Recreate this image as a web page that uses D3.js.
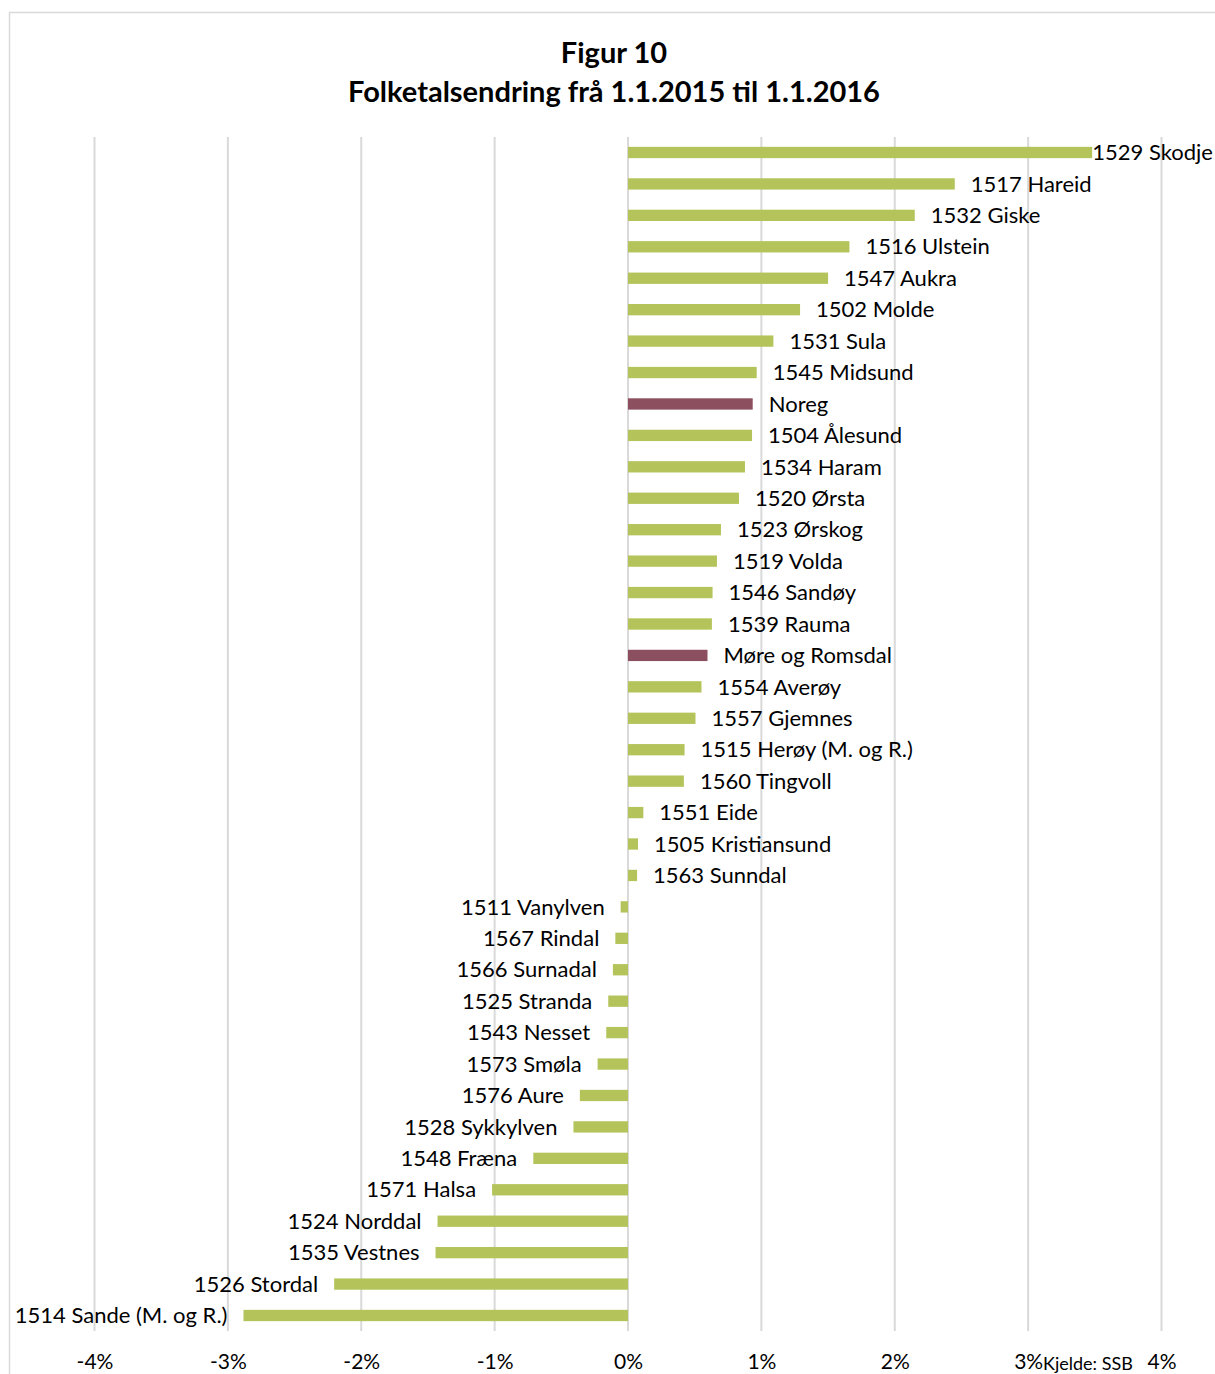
<!DOCTYPE html>
<html>
<head>
<meta charset="utf-8">
<script src="https://cdn.jsdelivr.net/npm/d3@7"></script>
<style>
  body { margin: 0; background: #fff; }
  svg { display: block; font-family: Lato, "Open Sans", sans-serif; }
</style>
</head>
<body>
<svg id="chart" width="1215" height="1374"></svg>
<script>
// municipalities, top to bottom
var names = ["1529 Skodje", "1517 Hareid", "1532 Giske", "1516 Ulstein", "1547 Aukra",
  "1502 Molde", "1531 Sula", "1545 Midsund", "Noreg", "1504 Ålesund", "1534 Haram",
  "1520 Ørsta", "1523 Ørskog", "1519 Volda", "1546 Sandøy", "1539 Rauma",
  "Møre og Romsdal", "1554 Averøy", "1557 Gjemnes", "1515 Herøy (M. og R.)",
  "1560 Tingvoll", "1551 Eide", "1505 Kristiansund", "1563 Sunndal",
  "1511 Vanylven", "1567 Rindal", "1566 Surnadal", "1525 Stranda", "1543 Nesset",
  "1573 Smøla", "1576 Aure", "1528 Sykkylven", "1548 Fræna", "1571 Halsa",
  "1524 Norddal", "1535 Vestnes", "1526 Stordal", "1514 Sande (M. og R.)"];

// change in percent
var changes = [3.48, 2.45, 2.15, 1.66, 1.50, 1.29, 1.09, 0.965, 0.935, 0.93, 0.877,
  0.832, 0.697, 0.667, 0.634, 0.629, 0.596, 0.551, 0.506, 0.424, 0.419, 0.115,
  0.075, 0.068, -0.055, -0.095, -0.113, -0.148, -0.163, -0.228, -0.361, -0.409,
  -0.710, -1.019, -1.428, -1.443, -2.203, -2.883];

// rows drawn in the darker colour (totals)
var totals = ["Noreg", "Møre og Romsdal"];

var xTicks = [-4, -3, -2, -1, 0, 1, 2, 3, 4];

var svg = d3.select("#chart");

// outer frame (only top and left visible)
svg.append("line").attr("x1", 9).attr("x2", 1215).attr("y1", 12.5).attr("y2", 12.5)
  .attr("stroke", "#d9d9d9").attr("stroke-width", 1.5);
svg.append("line").attr("x1", 9.5).attr("x2", 9.5).attr("y1", 12).attr("y2", 1374)
  .attr("stroke", "#d9d9d9").attr("stroke-width", 1.5);

// title
svg.append("text").attr("x", 614).attr("y", 63).attr("text-anchor", "middle")
  .attr("font-weight", "bold").attr("font-size", 29).attr("fill", "#000")
  .text("Figur 10");
svg.append("text").attr("x", 614).attr("y", 102).attr("text-anchor", "middle")
  .attr("font-weight", "bold").attr("font-size", 29).attr("fill", "#000")
  .text("Folketalsendring frå 1.1.2015 til 1.1.2016");

var x = d3.scaleLinear().domain([-4, 4]).range([94.5, 1161.5]);

var step = (1315 - 152) / (names.length - 1);
var y = d3.scaleBand().domain(names)
  .range([152.5 - step / 2, 1315.5 + step / 2]).paddingInner(0.64).paddingOuter(0.32);

// gridlines
svg.append("g").selectAll("line").data(xTicks).enter().append("line")
  .attr("x1", function(d) { return x(d); })
  .attr("x2", function(d) { return x(d); })
  .attr("y1", 137).attr("y2", 1331)
  .attr("stroke", "#d9d9d9").attr("stroke-width", 2);

// x axis tick labels
var xAxis = d3.axisBottom(x).tickValues(xTicks)
  .tickFormat(function(d) { return d + "%"; }).tickSize(0).tickPadding(0);
var ax = svg.append("g").attr("transform", "translate(0,1354)").call(xAxis);
ax.select(".domain").remove();
ax.selectAll("text").attr("font-size", 21).attr("fill", "#000")
  .attr("font-family", "Lato, 'Open Sans', sans-serif").attr("dy", "0.71em")
  .attr("y", 0);

var data = names.map(function(n, i) { return { name: n, value: changes[i] }; });

// bars
svg.append("g").selectAll("rect").data(data).enter().append("rect")
  .attr("x", function(d) { return x(Math.min(0, d.value)); })
  .attr("y", function(d) { return y(d.name); })
  .attr("width", function(d) { return Math.abs(x(d.value) - x(0)); })
  .attr("height", y.bandwidth())
  .attr("fill", function(d) { return totals.indexOf(d.name) >= 0 ? "#8c4f5f" : "#b4c45a"; });

// bar labels
var labels = svg.append("g").selectAll("text").data(data).enter().append("text")
  .attr("y", function(d) { return y(d.name) + y.bandwidth() / 2; })
  .attr("dy", "0.35em")
  .attr("font-size", 22).attr("fill", "#000")
  .attr("text-anchor", function(d) { return d.value < 0 ? "end" : "start"; })
  .text(function(d) { return d.name; });

labels.attr("x", function(d) {
  if (d.value < 0) return x(d.value) - 16;
  var w = this.getComputedTextLength();
  return Math.min(x(d.value) + 16, 1213 - w);
});

// source note
svg.append("text").attr("x", 1043).attr("y", 1370).attr("font-size", 18)
  .attr("fill", "#000").text("Kjelde: SSB");
</script>
</body>
</html>
